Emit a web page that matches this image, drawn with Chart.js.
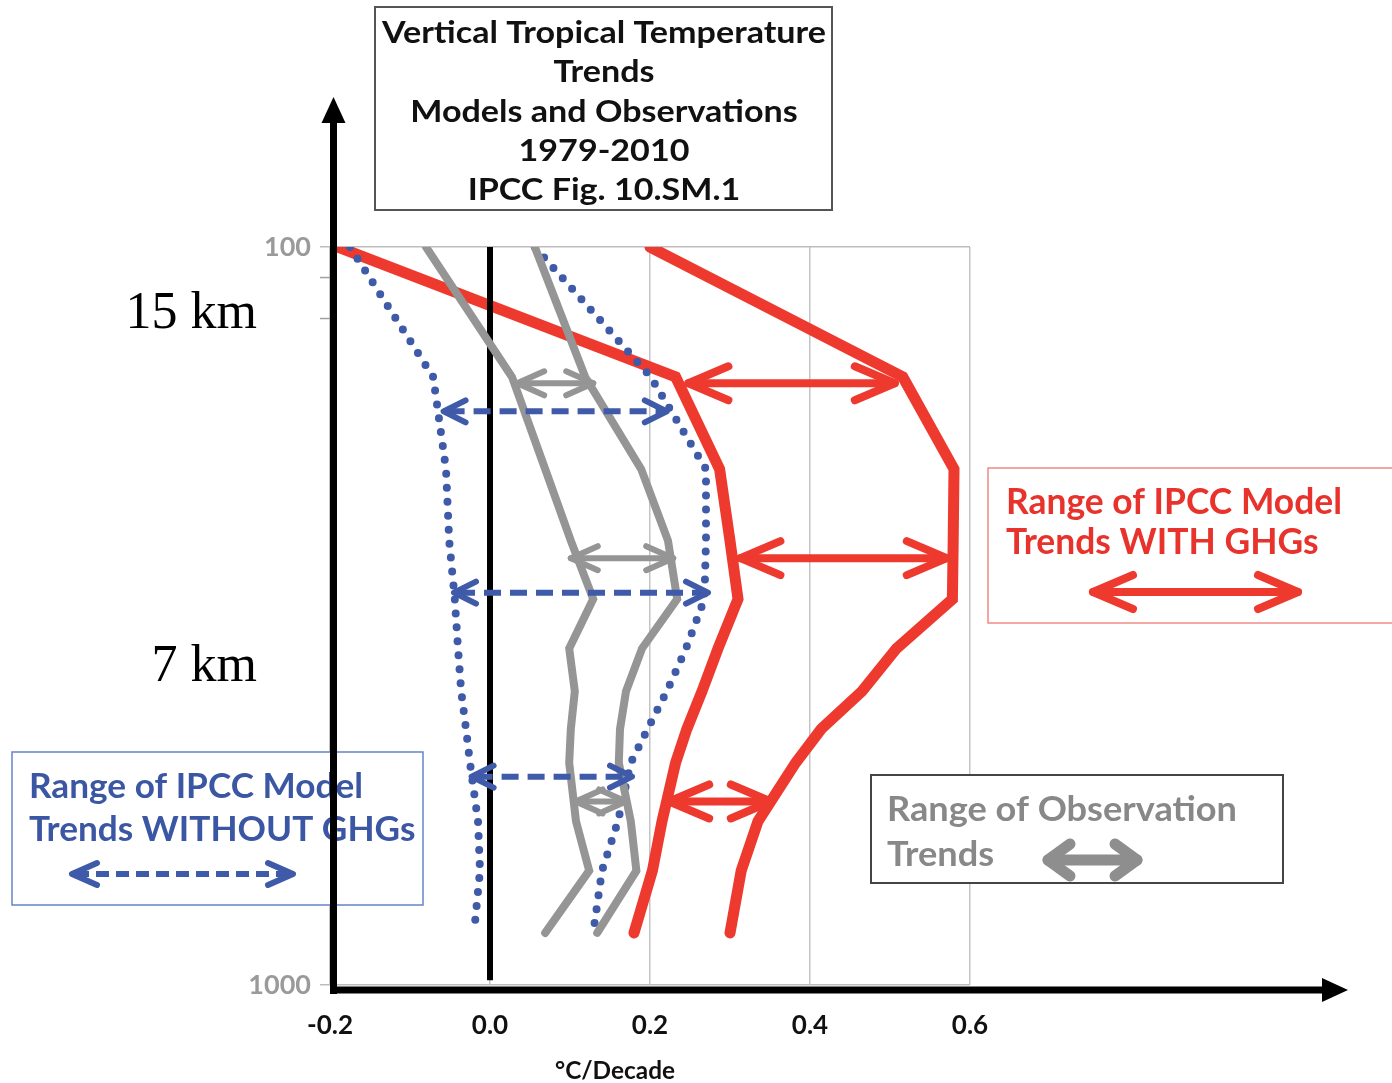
<!DOCTYPE html>
<html>
<head>
<meta charset="utf-8">
<title>Vertical Tropical Temperature Trends</title>
<script src="https://cdn.jsdelivr.net/npm/chart.js@4.4.0/dist/chart.umd.min.js"></script>
<style>
    html, body { margin: 0; padding: 0; background: #fff; }
    #chart { display: block; }
</style>
</head>
<body>
<canvas id="chart" width="1392" height="1083"></canvas>
<script>
// Pressure levels (hPa) the profiles are read at
const levels = [100, 150, 200, 250, 300, 350, 400, 450, 500, 600, 700, 850];

// Trend profiles (°C/decade) at each level
const ghgLow    = [-0.19, 0.232, 0.287, 0.300, 0.310, 0.285, 0.265, 0.246, 0.232, 0.215, 0.203, 0.180];
const ghgHigh   = [ 0.20, 0.516, 0.580, 0.579, 0.578, 0.508, 0.465, 0.414, 0.382, 0.335, 0.314, 0.300];
const noGhgLow  = [-0.175, -0.071, -0.055, -0.051, -0.044, -0.040, -0.036, -0.030, -0.025, -0.015, -0.0125, -0.020];
const noGhgHigh = [ 0.056, 0.201, 0.270, 0.270, 0.268, 0.245, 0.221, 0.197, 0.176, 0.160, 0.140, 0.129];
const obsLow    = [-0.08, 0.0275, 0.069, 0.101, 0.129, 0.099, 0.106, 0.101, 0.099, 0.1075, 0.124, 0.069];
const obsHigh   = [ 0.056, 0.119, 0.189, 0.2225, 0.234, 0.190, 0.170, 0.1625, 0.161, 0.176, 0.183, 0.134];

// Zero reference line (hPa range)
const zeroLine = [100, 985];

// Double arrows marking each range: level (hPa), from, to (°C/decade)
const ghgArrowP     = [153, 264, 564];
const ghgArrowFrom  = [0.248, 0.313, 0.224];
const ghgArrowTo    = [0.506, 0.571, 0.351];
const noGhgArrowP    = [167, 294, 522];
const noGhgArrowFrom = [-0.058, -0.045, -0.023];
const noGhgArrowTo   = [0.221, 0.2725, 0.1775];
const obsArrowP     = [153, 264, 564];
const obsArrowFrom  = [0.034, 0.101, 0.107];
const obsArrowTo    = [0.129, 0.229, 0.170];

// Axis ticks
const xTicks = [-0.2, 0.0, 0.2, 0.4, 0.6];
const yTicks = [100, 1000];
const minorTicks = [110, 125];

// Colours
const RED = '#ee3a2e';
const BLUE = '#3f5aa8';
const GREY = '#959595';
const FONT = 'Lato, "Open Sans", sans-serif';

function profile(values) {
    return levels.map((p, i) => ({ x: values[i], y: p }));
}

function lineSet(values, color, width, extra) {
    return Object.assign({
        data: profile(values),
        borderColor: color,
        borderWidth: width,
        borderCapStyle: 'round',
        borderJoinStyle: 'miter',
        pointRadius: 0,
        fill: false,
        tension: 0
    }, extra || {});
}

// Drawing helpers
function doubleArrow(ctx, x0, x1, y, s) {
    ctx.save();
    ctx.strokeStyle = s.color;
    ctx.lineWidth = s.width;
    ctx.lineCap = s.dash ? 'butt' : 'round';
    ctx.setLineDash(s.dash || []);
    ctx.beginPath();
    ctx.moveTo(x0 + (s.dash ? 4 : 0), y);
    ctx.lineTo(x1 - (s.dash ? 4 : 0), y);
    ctx.stroke();
    ctx.setLineDash([]);
    ctx.lineCap = 'round';
    ctx.lineJoin = 'round';
    ctx.beginPath();
    ctx.moveTo(x0 + s.head, y - s.half);
    ctx.lineTo(x0, y);
    ctx.lineTo(x0 + s.head, y + s.half);
    ctx.moveTo(x1 - s.head, y - s.half);
    ctx.lineTo(x1, y);
    ctx.lineTo(x1 - s.head, y + s.half);
    ctx.stroke();
    ctx.restore();
}

function rangeArrows(ctx, xs, ys, pArr, fromArr, toArr, style) {
    pArr.forEach((p, i) => {
        doubleArrow(ctx, xs.getPixelForValue(fromArr[i]), xs.getPixelForValue(toArr[i]),
            ys.getPixelForValue(p), style);
    });
}

// Lines of text, squeezed horizontally so the reference line hits a target width
function textBlock(ctx, o) {
    ctx.save();
    ctx.font = `${o.weight || 'bold'} ${o.size}px ${o.family || FONT}`;
    ctx.fillStyle = o.color;
    ctx.textBaseline = 'alphabetic';
    ctx.textAlign = 'left';
    const sx = o.width ? o.width / ctx.measureText(o.lines[0]).width : 1;
    o.lines.forEach((line, i) => {
        const w = ctx.measureText(line).width * sx;
        let x = o.x;
        if (o.align === 'center') x = o.x - w / 2;
        if (o.align === 'right') x = o.x - w;
        ctx.save();
        ctx.translate(x, o.baselines[i]);
        ctx.scale(sx, 1);
        ctx.fillText(line, 0, 0);
        ctx.restore();
    });
    ctx.restore();
}

function box(ctx, x, y, w, h, color, lw) {
    ctx.save();
    ctx.fillStyle = '#fff';
    ctx.fillRect(x, y, w, h);
    ctx.strokeStyle = color;
    ctx.lineWidth = lw;
    ctx.strokeRect(x, y, w, h);
    ctx.restore();
}

const redStyle = { color: RED, width: 8, head: 40, half: 17 };
const blueStyle = { color: BLUE, width: 6, dash: [17, 9], head: 22, half: 11 };
const greyStyle = { color: GREY, width: 6, head: 27, half: 12 };

const decor = {
    id: 'decor',
    beforeDraw(chart) {
        const ctx = chart.ctx;
        ctx.save();
        ctx.fillStyle = '#fff';
        ctx.fillRect(0, 0, chart.width, chart.height);
        ctx.restore();
    },
    afterDatasetsDraw(chart) {
        const { ctx, scales: { x, y } } = chart;
        rangeArrows(ctx, x, y, obsArrowP, obsArrowFrom, obsArrowTo, greyStyle);
        rangeArrows(ctx, x, y, noGhgArrowP, noGhgArrowFrom, noGhgArrowTo, blueStyle);
        rangeArrows(ctx, x, y, ghgArrowP, ghgArrowFrom, ghgArrowTo, redStyle);
    },
    afterDraw(chart) {
        const { ctx, scales: { x, y } } = chart;

        // minor ticks on the pressure axis
        ctx.save();
        ctx.strokeStyle = '#a0a0a0';
        ctx.lineWidth = 1.5;
        minorTicks.forEach(p => {
            const py = y.getPixelForValue(p);
            ctx.beginPath();
            ctx.moveTo(320, py);
            ctx.lineTo(333, py);
            ctx.stroke();
        });
        ctx.restore();

        // title box
        box(ctx, 375, 7, 457, 203, '#555', 2);
        textBlock(ctx, {
            lines: ['Vertical Tropical Temperature', 'Trends', 'Models and Observations', '1979-2010', 'IPCC Fig. 10.SM.1'],
            x: 604, align: 'center', baselines: [43, 82, 122, 161, 200],
            size: 30, width: 444, color: '#111'
        });

        // legend: with GHGs
        box(ctx, 988, 468, 420, 155, '#f08a84', 1.5);
        textBlock(ctx, {
            lines: ['Range of IPCC Model', 'Trends WITH GHGs'],
            x: 1006, baselines: [514, 554], size: 37, width: 336, color: '#e8322c'
        });
        doubleArrow(ctx, 1093, 1298, 592, redStyle);

        // legend: without GHGs
        box(ctx, 12, 752, 411, 153, '#6582cc', 1.5);
        textBlock(ctx, {
            lines: ['Range of IPCC Model', 'Trends WITHOUT GHGs'],
            x: 29, baselines: [798, 841], size: 35, width: 334, color: '#3b56a3'
        });
        doubleArrow(ctx, 72, 293, 874, { color: BLUE, width: 6, dash: [13, 7], head: 25, half: 11 });

        // legend: observations
        box(ctx, 871, 775, 412, 108, '#444', 2);
        textBlock(ctx, {
            lines: ['Range of Observation', 'Trends'],
            x: 887, baselines: [821, 866], size: 35, width: 350, color: '#888'
        });
        doubleArrow(ctx, 1048, 1137, 860, { color: '#8e8e8e', width: 11, head: 22, half: 16 });

        // height labels
        textBlock(ctx, {
            lines: ['15 km'], x: 257, align: 'right', baselines: [328],
            size: 52, weight: 'normal', family: '"Liberation Serif", "Times New Roman", serif', color: '#000'
        });
        textBlock(ctx, {
            lines: ['7 km'], x: 257, align: 'right', baselines: [681],
            size: 52, weight: 'normal', family: '"Liberation Serif", "Times New Roman", serif', color: '#000'
        });

        // axis title
        textBlock(ctx, {
            lines: ['°C/Decade'], x: 615, align: 'center', baselines: [1079],
            size: 24, width: 120, color: '#111'
        });

        // black axes with arrow heads
        ctx.save();
        ctx.strokeStyle = '#000';
        ctx.fillStyle = '#000';
        ctx.lineWidth = 7;
        ctx.beginPath();
        ctx.moveTo(333.5, 994);
        ctx.lineTo(333.5, 118);
        ctx.moveTo(330, 990);
        ctx.lineTo(1326, 990);
        ctx.stroke();
        ctx.beginPath();
        ctx.moveTo(333.5, 97);
        ctx.lineTo(345.5, 123);
        ctx.lineTo(321.5, 123);
        ctx.closePath();
        ctx.fill();
        ctx.beginPath();
        ctx.moveTo(1348, 990);
        ctx.lineTo(1322, 978);
        ctx.lineTo(1322, 1002);
        ctx.closePath();
        ctx.fill();
        ctx.restore();
    }
};

const ctx = document.getElementById('chart').getContext('2d');
new Chart(ctx, {
    type: 'line',
    data: {
        datasets: [
            lineSet(obsLow, GREY, 8),
            lineSet(obsHigh, GREY, 8),
            lineSet(noGhgLow, BLUE, 8, { borderDash: [0, 14] }),
            lineSet(noGhgHigh, BLUE, 8, { borderDash: [0, 14] }),
            {
                data: zeroLine.map(p => ({ x: 0, y: p })),
                borderColor: '#000', borderWidth: 6, pointRadius: 0, fill: false
            },
            lineSet(ghgLow, RED, 11),
            lineSet(ghgHigh, RED, 11)
        ]
    },
    options: {
        responsive: false,
        animation: false,
        devicePixelRatio: 1,
        layout: { padding: { left: 230, right: 422, top: 247, bottom: 0 } },
        plugins: {
            legend: { display: false },
            tooltip: { enabled: false }
        },
        scales: {
            x: {
                type: 'linear',
                min: -0.2,
                max: 0.6,
                afterFit: s => { s.height = 98; },
                afterBuildTicks: s => { s.ticks = xTicks.map(v => ({ value: v })); },
                ticks: {
                    callback: v => v.toFixed(1),
                    font: { family: FONT, size: 26, weight: 'bold' },
                    color: '#111',
                    padding: 25
                },
                grid: { color: '#c4c4c4', lineWidth: 1.5, drawTicks: false },
                border: { display: false }
            },
            y: {
                type: 'logarithmic',
                reverse: true,
                min: 100,
                max: 1000,
                afterFit: s => { s.width = 100; },
                afterBuildTicks: s => { s.ticks = yTicks.map(v => ({ value: v })); },
                ticks: {
                    callback: v => String(v),
                    font: { family: FONT, size: 27, weight: 'bold' },
                    color: '#9a9a9a',
                    padding: 9
                },
                grid: { color: '#bdbdbd', lineWidth: 1.5, tickLength: 10 },
                border: { display: false }
            }
        }
    },
    plugins: [decor]
});
</script>
</body>
</html>
